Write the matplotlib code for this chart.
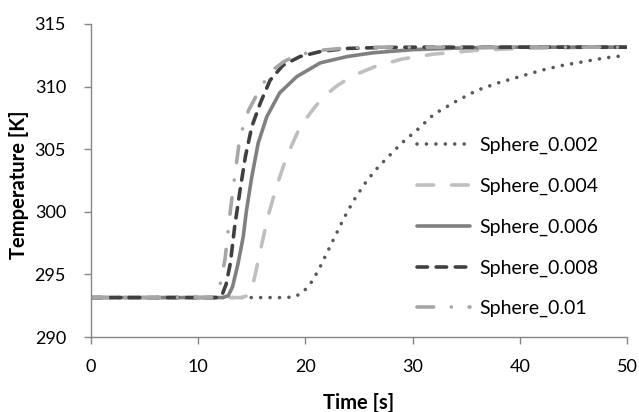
import matplotlib
matplotlib.use("Agg")
import matplotlib.pyplot as plt

plt.rcParams['font.family'] = ['Lato', 'DejaVu Sans']

# ---- data ----
t_002 = [0, 18, 19, 19.8, 20.5, 21.2, 22, 22.8, 23.6, 24.5, 25.5, 26.5, 27.5, 29, 30.5, 32, 34, 36, 38, 40, 42, 44, 46, 48, 50]
T_002 = [293.15, 293.15, 293.2, 293.6, 294.3, 295.3, 296.7, 298.1, 299.5, 300.9, 302.2, 303.3, 304.2, 305.5, 306.6, 307.8, 308.8, 309.7, 310.3, 310.8, 311.3, 311.7, 312.0, 312.3, 312.5]

t_004 = [0, 14, 14.6, 15.0, 15.4, 15.8, 16.5, 17.3, 18.25, 19.3, 20.2, 21.0, 22.0, 23.0, 24.5, 26.5, 29, 32, 36, 40, 45, 50]
T_004 = [293.15, 293.15, 293.3, 293.8, 295.3, 296.9, 299.6, 302.0, 304.4, 306.4, 307.6, 308.5, 309.4, 310.1, 310.9, 311.6, 312.2, 312.6, 312.9, 313.05, 313.12, 313.15]

t_006 = [0, 12.3, 12.8, 13.2, 13.7, 14.2, 14.5, 15.0, 15.6, 16.4, 17.6, 19.2, 21.4, 23.9, 26.3, 30, 35, 40, 50]
T_006 = [293.15, 293.15, 293.3, 294.0, 295.8, 298.0, 300.1, 302.8, 305.5, 307.6, 309.5, 310.8, 311.9, 312.4, 312.7, 312.95, 313.1, 313.15, 313.15]

t_008 = [0, 11.8, 12.2, 12.6, 13.0, 13.4, 13.9, 14.4, 15.0, 15.8, 16.7, 17.9, 19.5, 21.4, 23.9, 27, 30, 50]
T_008 = [293.15, 293.15, 293.3, 294.2, 295.9, 298.8, 301.7, 304.4, 306.8, 308.7, 310.5, 311.7, 312.4, 312.8, 313.05, 313.12, 313.15, 313.15]

t_010 = [0, 11.3, 11.7, 12.0, 12.5, 13.0, 13.4, 13.9, 14.7, 15.8, 16.9, 18.0, 19.2, 21.4, 24, 27, 50]
T_010 = [293.15, 293.15, 293.4, 294.0, 296.2, 300.1, 302.8, 306.0, 308.1, 309.9, 311.3, 312.0, 312.5, 312.9, 313.1, 313.15, 313.15]

labels = ["Sphere_0.002", "Sphere_0.004", "Sphere_0.006", "Sphere_0.008", "Sphere_0.01"]
x_ticks = [0, 10, 20, 30, 40, 50]
y_ticks = [290, 295, 300, 305, 310, 315]

# ---- figure ----
fig = plt.figure(figsize=(6.39, 4.12), dpi=100)
ax = fig.add_axes([91/639, 1-337/412, (627-91)/639, (337-24)/412])

lw = 2.6
ax.plot(t_002, T_002, color='#595959', lw=lw, linestyle=(0, (0.01, 2.6)),
        dash_capstyle='round', label=labels[0])
ax.plot(t_004, T_004, color='#BFBFBF', lw=lw, linestyle=(0, (4.6, 5.0)),
        dash_capstyle='round', label=labels[1])
ax.plot(t_006, T_006, color='#808080', lw=lw, linestyle='-',
        solid_capstyle='round', label=labels[2])
ax.plot(t_008, T_008, color='#404040', lw=lw, linestyle=(0, (2.9, 2.4)),
        dash_capstyle='round', label=labels[3])
ax.plot(t_010, T_010, color='#A6A6A6', lw=lw, linestyle=(0, (4.6, 4.9, 0.01, 4.9)),
        dash_capstyle='round', label=labels[4])

ax.set_xlim(0, 50)
ax.set_ylim(290, 315)
ax.set_xticks(x_ticks)
ax.set_yticks(y_ticks)

for s in ['top', 'right']:
    ax.spines[s].set_visible(False)
for s in ['left', 'bottom']:
    ax.spines[s].set_color('#868686')
    ax.spines[s].set_linewidth(1.0)
ax.tick_params(axis='both', direction='out', length=5, width=1.0, color='#868686',
               labelsize=13, labelcolor='black')
ax.tick_params(axis='y', pad=13)
ax.tick_params(axis='x', pad=11)

ax.set_xlabel("Time [s]", fontsize=14.5, fontweight='bold')
ax.set_ylabel("Temperature [K]", fontsize=14.5, fontweight='bold')
ax.xaxis.set_label_coords(0.5, -0.211)
ax.xaxis.label.set_va('center')
ax.yaxis.set_label_coords((19-91)/536, (337-185)/313)
ax.yaxis.label.set_va('center')

leg = ax.legend(loc='upper left', bbox_to_anchor=((417-91)/536, (337-137)/313),
                frameon=False, fontsize=14, handlelength=2.7, handletextpad=0.5,
                labelspacing=1.21, borderpad=0, borderaxespad=0)

fig.savefig("out.png", dpi=100)
